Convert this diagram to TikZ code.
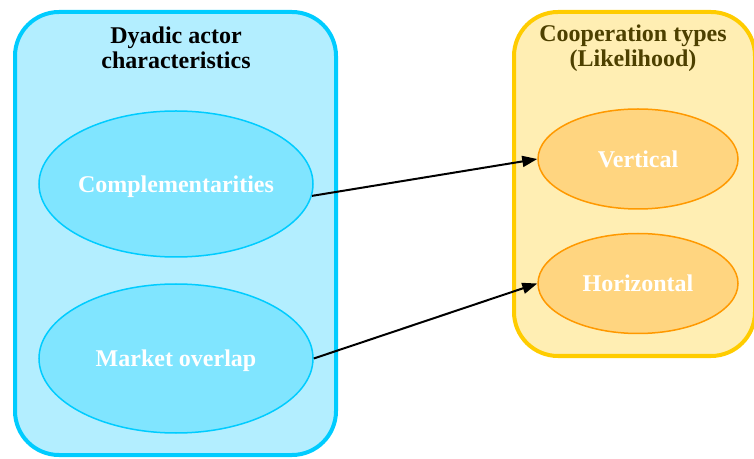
\documentclass[tikz,border=0pt]{standalone}
\usepackage{fontspec}
\setmainfont{Liberation Serif}
\usepackage{xcolor}
\usepackage{tikz}
\usetikzlibrary{shapes,arrows.meta,calc}
\definecolor{cyanLine}{HTML}{00CCFF}
\definecolor{cyanBack}{HTML}{B3EEFF}
\definecolor{cyanFill}{HTML}{80E5FF}
\definecolor{goldLine}{HTML}{FFCC00}
\definecolor{goldBack}{HTML}{FFEEB3}
\definecolor{goldFill}{HTML}{FFD580}
\definecolor{orangeLine}{HTML}{FF9900}
\definecolor{titleBrown}{HTML}{4D4000}
\tikzstyle{tsBold} = [ 
    font=\bfseries\fontsize{12}{12.5}\selectfont
]
\tikzstyle{tsGroup} = [ 
    rectangle,
    rounded corners=22pt,
    line width=2pt
]
\tikzstyle{tsTitle} = [ 
    tsBold, 
    text centered, 
    align=center
]
\tikzstyle{tsEllipse} = [ 
    ellipse,
    tsBold,
    text=white,
    text depth=0pt,
    inner sep=0pt,
    inner xsep=-1pt,
    line width=0.75pt
]
\tikzstyle{tsArrow} = [ 
    -{Triangle[length=7.5pt,width=5.5pt]},
    line width=1pt,
    black
]

\begin{document}
\begin{tikzpicture}[x=0.5pt, y=-0.5pt]
        
        \useasboundingbox (0,0) rectangle (754,459);
        
        % groups
        \node[  tsGroup,
                draw=cyanLine,
                fill=cyanBack,
                minimum width=160.5pt,
                minimum height=221.5pt] (actors) at (175.5,233.5) { };
        \node[  tsGroup,
                draw=goldLine,
                fill=goldBack,
                minimum width=120.5pt,
                minimum height=172pt] (types) at (634.5,184) { };
                
        \node[tsTitle, text=black] (actorsTitle) at (176,48) {Dyadic actor\\characteristics};
        \node[tsTitle, text=titleBrown] (typesTitle) at (633,48) {Cooperation types\\(Likelihood)};
     	
        % characteristics
        \node[  tsEllipse, draw=cyanLine, fill=cyanFill,
                minimum width=137pt, minimum height=73pt] (comp) at (176,184) {Complementarities};
        \node[  tsEllipse, draw=cyanLine, fill=cyanFill,
                minimum width=137pt, minimum height=74.5pt] (market) at (176,358.5) {Market overlap};
   	 	
        % cooperation
        \node[  tsEllipse, draw=orangeLine, fill=goldFill,
                minimum width=100pt, minimum height=50pt] (vert) at (638,159) {Vertical};
        \node[  tsEllipse, draw=orangeLine, fill=goldFill,
                minimum width=100pt, minimum height=50pt] (horiz) at (638,283.5) {Horizontal};
   	 	
        \draw[tsArrow] (comp.-5) -- (vert.west);
        \draw[tsArrow] (market.east) -- (horiz.west);
   	 	
\end{tikzpicture}
\end{document}
